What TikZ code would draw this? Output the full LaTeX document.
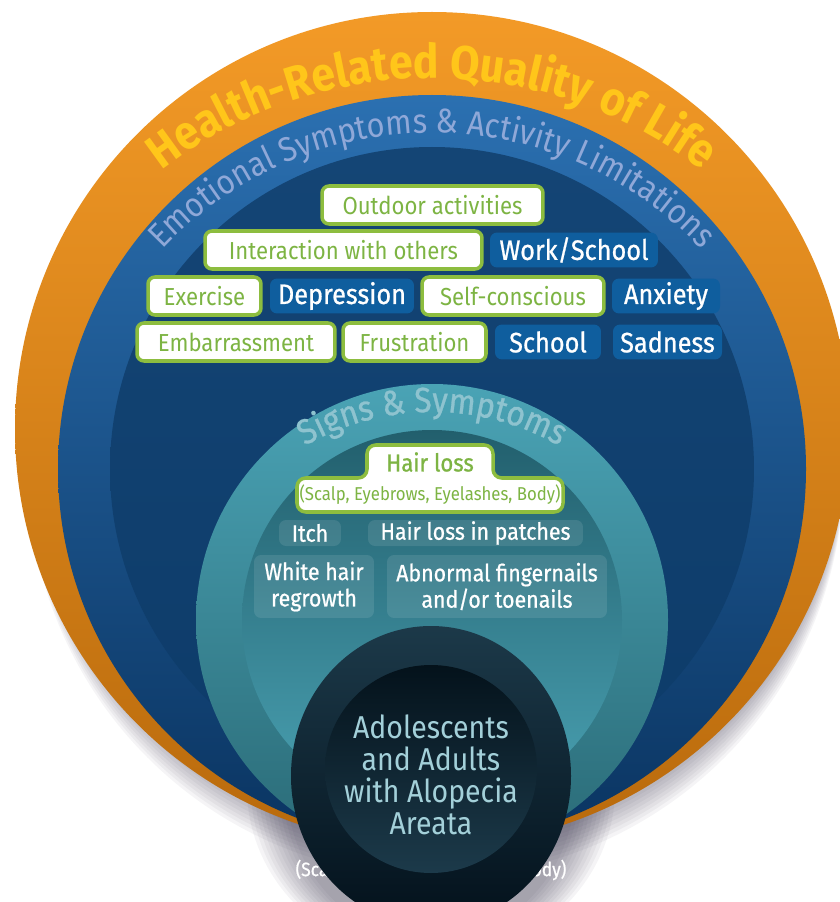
\documentclass[tikz,border=0pt]{standalone}
\usepackage{fontspec}
\setmainfont{Fira Sans}[FakeStretch = 0.9]
\newfontfamily\boxfont{Fira Sans}[FakeStretch = 0.9, FakeBold = 0.8]
\usetikzlibrary{
    decorations.text % Ring titles set along arcs.
}

% Colours of the rings and the boxes.
\definecolor{ringorange}{HTML}{F39A27}
\definecolor{ringorangedark}{HTML}{B96A0C}
\definecolor{sunyellow}{HTML}{FFC61A}
\definecolor{bluetop}{HTML}{2B70B1}
\definecolor{bluemid}{HTML}{1C5A98}
\definecolor{bluebottom}{HTML}{0A3461}
\definecolor{navytop}{HTML}{144575}
\definecolor{navymid}{HTML}{2268A9}
\definecolor{navybottom}{HTML}{0D3B69}
\definecolor{emotext}{HTML}{8FA8D8}
\definecolor{boxblue}{HTML}{0F5E9E}
\definecolor{leafgreen}{HTML}{7DB443}
\definecolor{leafline}{HTML}{8DBD3F}
\definecolor{tealtop}{HTML}{4AA3B5}
\definecolor{tealmid}{HTML}{3F8F9F}
\definecolor{tealbottom}{HTML}{2A6A76}
\definecolor{deeptealtop}{HTML}{225F6D}
\definecolor{deeptealmid}{HTML}{3A8797}
\definecolor{deeptealbottom}{HTML}{4AA2B3}
\definecolor{signtext}{HTML}{8EC3CF}
\definecolor{corering}{HTML}{1C3949}
\definecolor{coreringdark}{HTML}{03111B}
\definecolor{coretop}{HTML}{04121B}
\definecolor{corebottom}{HTML}{1C3A4A}
\definecolor{coretext}{HTML}{A3D0D9}
\definecolor{shadowgrey}{HTML}{3C3550}

\begin{document}
\begin{tikzpicture}[%
        x = 0.02cm,
        y = 0.02cm,
        greenbox/.style = {
            draw = leafline, line width = 2pt, fill = white,
            rounded corners = 4pt, text = leafgreen,
            font = \fontsize{14}{16}\selectfont,
            minimum height = 0.76cm, inner sep = 0pt
        },
        bluebox/.style = {
            fill = boxblue, rounded corners = 4pt, text = white,
            font = \boxfont\fontsize{16}{18}\selectfont,
            minimum height = 0.70cm, inner sep = 0pt
        },
        tealbox/.style = {
            fill = white, fill opacity = 0.1, text opacity = 1,
            rounded corners = 4pt, text = white, align = center,
            font = \boxfont\fontsize{13.5}{15}\selectfont, inner sep = 0pt
        }
    ]

        % Canvas.
        \path[fill = white, use as bounding box] (0,0) rectangle (839,-902);

        % Centres of the rings.
        \coordinate (hrql) at (432,-429);
        \coordinate (emo) at (432,-469);
        \coordinate (signs) at (432,-620);
        \coordinate (core) at (431,-776);

        % Soft shadows under the rings and the core.
        \foreach \k in {4,8,...,40}
            \fill[shadowgrey, opacity = 0.05] (436,{-429-\k}) circle[radius = 408];
        \foreach \k in {4,8,...,44}
            \fill[shadowgrey, opacity = 0.05] (431,-788) ellipse[x radius = {140+\k}, y radius = {150+\k/2}];

        % Outer ring.
        \shade[top color = ringorange, middle color = ringorange,
               bottom color = ringorangedark] (hrql) circle[radius = 417];

        % Emotional ring and its inner disc.
        \shade[top color = bluetop, middle color = bluemid,
               bottom color = bluebottom] (emo) circle[radius = 374];
        \shade[top color = navytop, middle color = navymid,
               bottom color = navybottom] (emo) circle[radius = 322];

        % Signs ring and its inner disc.
        \shade[top color = tealtop, middle color = tealmid,
               bottom color = tealbottom] (signs) circle[radius = 236];
        \shade[top color = deeptealtop, middle color = deeptealmid,
               bottom color = deeptealbottom] (signs) circle[radius = 190];

        % Ring titles.
        \path[decorate, decoration = {text along path, text align = center,
              text = {|\fontsize{27}{30}\selectfont\bfseries\color{sunyellow}|Health-Related Quality of Life}}]
              (432,-520) ++(140:442) arc[start angle = 140, end angle = 40, radius = 442];
        \path[decorate, decoration = {text along path, text align = center,
              text = {|\fontsize{19.5}{24}\selectfont\color{emotext}|Emotional Symptoms {\&} Activity Limitations}}]
              (432,-503) ++(145:370) arc[start angle = 145, end angle = 35, radius = 370];
        \path[decorate, decoration = {text along path, text align = center,
              text = {|\boxfont\fontsize{20}{24}\selectfont\color{signtext}|Signs {\&} Symptoms}}]
              (432,-667) ++(130:255) arc[start angle = 130, end angle = 50, radius = 255];

        % Activities and feelings.
        \node[greenbox, minimum width = 4.42cm] (outdoor) at (432.5,-205) {Outdoor activities};
        \node[greenbox, minimum width = 5.54cm] (interaction) at (343.5,-250) {Interaction with others};
        \node[bluebox, minimum width = 3.36cm] (work) at (574,-250) {Work/School};
        \node[greenbox, minimum width = 2.26cm] (exercise) at (204.5,-296) {Exercise};
        \node[bluebox, minimum width = 2.88cm] (depression) at (342,-296) {Depression};
        \node[greenbox, minimum width = 3.64cm] (selfconscious) at (513,-296) {Self-conscious};
        \node[bluebox, minimum width = 2.16cm] (anxiety) at (666,-296) {Anxiety};
        \node[greenbox, minimum width = 3.96cm] (embarrassment) at (236,-342) {Embarrassment};
        \node[greenbox, minimum width = 2.86cm] (frustration) at (414.5,-342) {Frustration};
        \node[bluebox, minimum width = 2.12cm] (school) at (548,-342) {School};
        \node[bluebox, minimum width = 2.18cm] (sadness) at (667.5,-342) {Sadness};

        % Hair loss box with its tab.
        \draw[draw = leafline, line width = 2pt, fill = white, rounded corners = 5pt]
              (297,-512) -- (297,-478) -- (367,-478) -- (367,-445) -- (493,-445)
              -- (493,-478) -- (563,-478) -- (563,-512) -- cycle;
        \node[text = leafgreen, font = \boxfont\fontsize{14}{16}\selectfont] (hairloss) at (430,-462) {Hair loss};
        \node[text = leafgreen, font = \fontsize{10.6}{12}\selectfont] (hairsites) at (430,-495)
              {(Scalp, Eyebrows, Eyelashes, Body)};

        % Other signs.
        \node[tealbox, minimum width = 1.24cm, minimum height = 0.52cm] (itch) at (310,-533) {Itch};
        \node[tealbox, minimum width = 4.30cm, minimum height = 0.52cm] (patches) at (475.5,-533) {Hair loss in patches};
        \node[tealbox, minimum width = 2.40cm, minimum height = 1.26cm] (regrowth) at (314,-586.5)
              {White hair\\regrowth};
        \node[tealbox, minimum width = 4.40cm, minimum height = 1.26cm] (nails) at (497,-586.5)
              {Abnormal fingernails\\and/or toenails};

        % Faint caption, mostly hidden by the core.
        \node[text = white, font = \boxfont\fontsize{11}{12}\selectfont] (ghost) at (431,-870)
              {(Scalp, Eyebrows, Eyelashes, Body)};

        % Core of the diagram.
        \shade[top color = corering, middle color = corering, bottom color = coreringdark]
              (core) ellipse[x radius = 140, y radius = 150];
        \shade[top color = coretop, bottom color = corebottom]
              (431,-769) ellipse[x radius = 106, y radius = 104];
        \node[text = coretext, align = center, font = \fontsize{18}{18.2}\selectfont]
              (population) at (431,-775) {Adolescents\\and Adults\\with Alopecia\\Areata};
    \end{tikzpicture}
\end{document}
